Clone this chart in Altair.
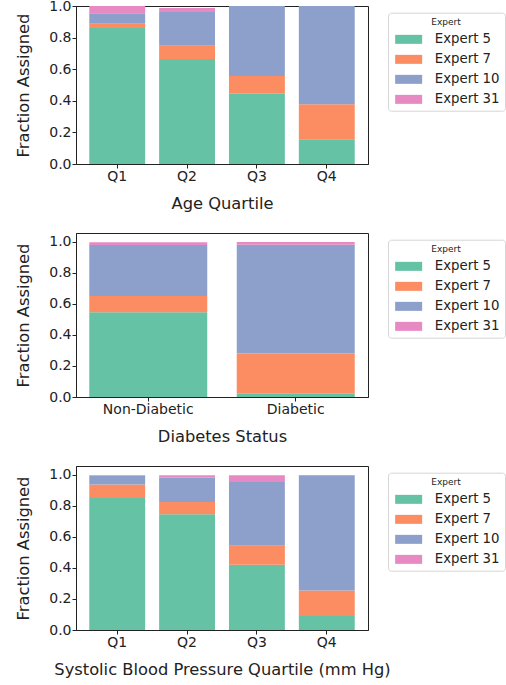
import altair as alt
import pandas as pd

experts = ["Expert 5", "Expert 7", "Expert 10", "Expert 31"]
colors = ["#66c2a5", "#fc8d62", "#8da0cb", "#e78ac3"]
y_ticks = [0.0, 0.2, 0.4, 0.6, 0.8, 1.0]

# Panel 1: Age quartile
age_cats = ["Q1", "Q2", "Q3", "Q4"]
age_e5 = [0.861, 0.665, 0.445, 0.156]
age_e7 = [0.027, 0.084, 0.112, 0.222]
age_e10 = [0.066, 0.213, 0.443, 0.622]
age_e31 = [0.046, 0.025, 0.0, 0.0]

# Panel 2: Diabetes status
diab_cats = ["Non-Diabetic", "Diabetic"]
diab_e5 = [0.546, 0.021]
diab_e7 = [0.106, 0.259]
diab_e10 = [0.329, 0.703]
diab_e31 = [0.017, 0.017]

# Panel 3: Systolic blood pressure quartile
sbp_cats = ["Q1", "Q2", "Q3", "Q4"]
sbp_e5 = [0.852, 0.747, 0.421, 0.090]
sbp_e7 = [0.086, 0.079, 0.122, 0.165]
sbp_e10 = [0.058, 0.157, 0.412, 0.743]
sbp_e31 = [0.004, 0.015, 0.043, 0.002]


def make_df(cats, e5, e7, e10, e31):
    rows = []
    for i, c in enumerate(cats):
        for k, (name, vals) in enumerate(zip(experts, [e5, e7, e10, e31])):
            rows.append({"cat": c, "expert": name, "rank": k, "frac": vals[i]})
    return pd.DataFrame(rows)


def panel(df, cats, xtitle, height, ymax, outer):
    return alt.Chart(df).mark_bar(clip=True).encode(
        x=alt.X("cat:N", sort=cats, title=xtitle,
                scale=alt.Scale(paddingInner=0.2, paddingOuter=outer),
                axis=alt.Axis(labelAngle=0)),
        y=alt.Y("frac:Q", stack="zero", title="Fraction Assigned",
                scale=alt.Scale(domain=[0, ymax], nice=False, zero=True),
                axis=alt.Axis(values=y_ticks, format=".1f")),
        color=alt.Color("expert:N", scale=alt.Scale(domain=experts, range=colors),
                        legend=alt.Legend(title="Expert", orient="none",
                                          legendX=312, legendY=6.7)),
        order=alt.Order("rank:Q", sort="ascending"),
    ).properties(width=292, height=height)


p1 = panel(make_df(age_cats, age_e5, age_e7, age_e10, age_e31), age_cats,
           "Age Quartile", 158, 1.0, 0.19)
p2 = panel(make_df(diab_cats, diab_e5, diab_e7, diab_e10, diab_e31), diab_cats,
           "Diabetes Status", 164, 1.058, 0.09)
p3 = panel(make_df(sbp_cats, sbp_e5, sbp_e7, sbp_e10, sbp_e31), sbp_cats,
           "Systolic Blood Pressure Quartile (mm Hg)", 164, 1.058, 0.19)

chart = alt.vconcat(p1, p2, p3, spacing=20).resolve_scale(
    color="independent"
).resolve_legend(color="independent").properties(
    padding={"left": 14, "top": -2, "right": 0, "bottom": 0},
    background="white",
).configure_axis(
    labelFont="DejaVu Sans", titleFont="DejaVu Sans",
    labelFontSize=14, titleFontSize=16.3, titleFontWeight="normal",
    domainColor="#222222", tickColor="#222222", labelColor="#222222",
    titleColor="#222222", grid=False, tickSize=4, labelPadding=1, domainWidth=1,
).configure_axisX(titlePadding=12).configure_axisY(titlePadding=17.5).configure_view(
    stroke="#222222", strokeWidth=1
).configure_legend(
    titleFont="DejaVu Sans", labelFont="DejaVu Sans",
    titleFontSize=9, titleFontWeight="normal", labelFontSize=13.3,
    labelColor="#222222", titleColor="#222222",
    symbolType="M-1,-1H5V1H-1Z", symbolSize=81, symbolStrokeWidth=0,
    symbolOpacity=1, labelOffset=28.5, padding=5, rowPadding=6,
    strokeColor="#d6d6d6", cornerRadius=3, fillColor="white",
    titleAnchor="middle", titlePadding=6,
)

chart.save("out.html", embed_options={"renderer": "svg", "actions": False})
